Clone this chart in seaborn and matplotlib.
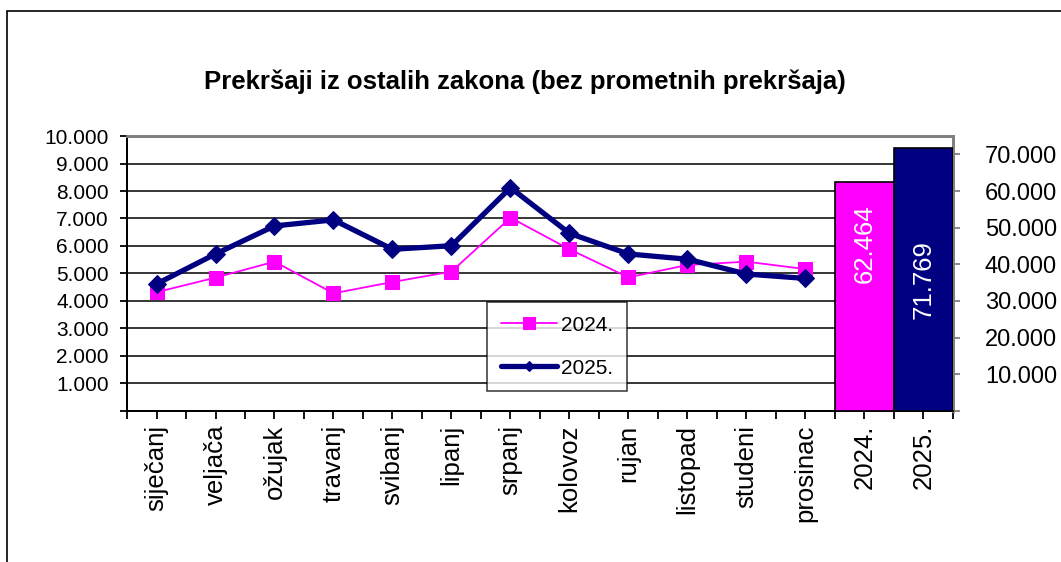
import matplotlib
matplotlib.use("Agg")
import matplotlib.pyplot as plt
import matplotlib.ticker as mticker
from matplotlib.patches import Rectangle
import seaborn as sns

# Monthly counts of offences (excluding traffic offences)
months = ["siječanj", "veljača", "ožujak", "travanj", "svibanj", "lipanj",
          "srpanj", "kolovoz", "rujan", "listopad", "studeni", "prosinac"]
values_2024 = [4320, 4850, 5430, 4280, 4690, 5070, 7030, 5880, 4860, 5310, 5430, 5160]
values_2025 = [4620, 5710, 6730, 6950, 5880, 6010, 8120, 6460, 5710, 5520, 4980, 4820]
year_labels = ["2024.", "2025."]
year_totals = [62464, 71769]

title = "Prekršaji iz ostalih zakona (bez prometnih prekršaja)"
pink = "#FF00FF"
navy = "#000080"
grey = "#808080"

sns.set_style("white")
plt.rcParams["font.family"] = ["Liberation Sans", "DejaVu Sans"]
plt.rcParams["text.color"] = "black"
plt.rcParams["axes.labelcolor"] = "black"
plt.rcParams["xtick.color"] = "black"
plt.rcParams["ytick.color"] = "black"

fig = plt.figure(figsize=(10.61, 5.62), dpi=100)
ax = fig.add_axes([0.1197, 0.2687, 0.7785, 0.4893])
ax2 = ax.twinx()

# Monthly lines on the primary axis
month_pos = list(range(len(months)))
sns.lineplot(x=month_pos, y=values_2024, ax=ax, color=pink, linewidth=1.3,
             marker="s", markersize=9.5, markeredgecolor=pink, label=year_labels[0],
             zorder=4)
sns.lineplot(x=month_pos, y=values_2025, ax=ax, color=navy, linewidth=3.8,
             marker="D", markersize=9, markeredgecolor=navy, label=year_labels[1],
             zorder=5)

# Yearly totals on the secondary axis
bar_pos = [len(months), len(months) + 1]
sns.barplot(x=bar_pos, y=year_totals, hue=year_labels, palette=[pink, navy],
            saturation=1, native_scale=True, width=1.0, edgecolor="black",
            linewidth=1.2, legend=False, ax=ax2, zorder=3)
label_frac = [0.73, 0.5]
for xp, v, f in zip(bar_pos, year_totals, label_frac):
    ax2.text(xp, v * f, f"{v:,}".replace(",", "."), rotation=90, color="white",
             ha="center", va="center", fontsize=18.5)

# Axes limits and ticks
ax.set_xlim(-0.5, len(months) + 1.5)
ax2.set_xlim(-0.5, len(months) + 1.5)
ax.set_ylim(0, 10000)
ax2.set_ylim(0, 75000)

all_labels = months + year_labels
ax.set_xticks(range(len(all_labels)))
ax.set_xticklabels(all_labels, rotation=90, fontsize=18.5)
ax.set_xticks([i - 0.5 for i in range(len(all_labels) + 1)], minor=True)
ax.tick_params(axis="x", which="both", direction="out", length=6, width=1.3,
               color="black", bottom=True, pad=4)

thousands = mticker.FuncFormatter(lambda v, p: "" if v == 0 else f"{int(v):,}".replace(",", "."))
ax.set_yticks(range(0, 10001, 1000))
ax.yaxis.set_major_formatter(thousands)
ax.tick_params(axis="y", direction="out", length=5, width=1.3, color="black",
               left=True, labelsize=15, pad=8)

ax2.set_yticks(range(0, 70001, 10000))
ax2.yaxis.set_major_formatter(thousands)
ax2.tick_params(axis="y", direction="out", length=5, width=1.3, color=grey,
                labelcolor="black", right=True, labelsize=17, pad=18)
ax2.set_xlabel("")
ax2.set_ylabel("")
ax.set_xlabel("")
ax.set_ylabel("")

# Horizontal gridlines
ax.yaxis.grid(True, color="black", linewidth=1.1)
ax.set_axisbelow(True)

for a in (ax, ax2):
    a.spines[:].set_visible(True)
    a.spines["left"].set_color("black")
    a.spines["left"].set_linewidth(1.3)
    a.spines["bottom"].set_color("black")
    a.spines["bottom"].set_linewidth(1.3)
    a.spines["top"].set_color(grey)
    a.spines["top"].set_linewidth(2)
    a.spines["right"].set_color(grey)
    a.spines["right"].set_linewidth(2)

# Legend
leg = ax.legend(loc="upper left", bbox_to_anchor=(0.459, 0.4626),
                bbox_transform=fig.transFigure, fontsize=15, frameon=True,
                fancybox=False, edgecolor="black", handlelength=2.7,
                labelspacing=1.15, borderpad=0.65, handletextpad=0.2,
                borderaxespad=0)
leg.get_frame().set_linewidth(1.1)
leg.legend_handles[0].set_markersize(8)
leg.legend_handles[1].set_markersize(5)

fig.text(0.4943, 0.854, title, ha="center", va="center", fontsize=18.5,
         fontweight="bold")

# Outer chart frame
fig.patches.append(Rectangle((7 / 1061, -0.5), 2.0, 0.5 + (1 - 11 / 562),
                             transform=fig.transFigure, fill=False,
                             edgecolor="black", linewidth=1.2))

fig.savefig("out.png", dpi=100, facecolor="white")
